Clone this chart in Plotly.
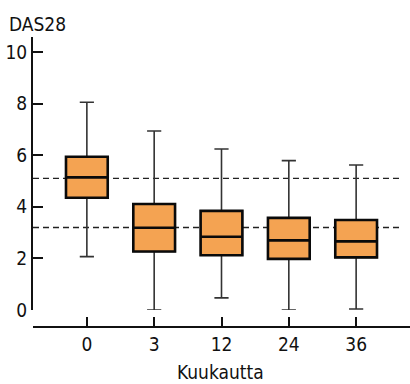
import plotly.graph_objects as go

months = ["0", "3", "12", "24", "36"]
whisker_low = [2.07, 0.0, 0.47, 0.0, 0.04]
q1 = [4.35, 2.27, 2.12, 1.98, 2.04]
median = [5.14, 3.19, 2.84, 2.70, 2.66]
q3 = [5.94, 4.11, 3.84, 3.57, 3.49]
whisker_high = [8.05, 6.94, 6.24, 5.79, 5.62]
thresholds = [5.1, 3.2]
y_ticks = [0, 2, 4, 6, 8, 10]

FONT = "DejaVu Sans Condensed"
FS = 19
INK = "#111111"
FILL = "#F4A352"

fig = go.Figure()
# whiskers (thin, grey)
fig.add_trace(go.Box(
    x=months, q1=q1, median=median, q3=q3,
    lowerfence=whisker_low, upperfence=whisker_high,
    width=0.62, whiskerwidth=0.34, fillcolor=FILL,
    line=dict(color="#333333", width=1.6), offsetgroup="a",
    boxpoints=False, hoverinfo="skip", showlegend=False,
))
# box body (thick black outline)
fig.add_trace(go.Box(
    x=months, q1=q1, median=median, q3=q3,
    lowerfence=q1, upperfence=q3,
    width=0.62, whiskerwidth=0, fillcolor=FILL,
    line=dict(color="#0a0a0a", width=2.6), offsetgroup="a",
    boxpoints=False, showlegend=False,
))

for t in thresholds:
    fig.add_shape(type="line", xref="paper", yref="y", x0=0, x1=0.981, y0=t, y1=t,
                  line=dict(color="#222222", width=1.4, dash="6px,4px"), layer="below")

fig.update_layout(
    width=410, height=384,
    margin=dict(l=33, r=0, t=37, b=57),
    paper_bgcolor="white", plot_bgcolor="white",
    boxmode="overlay",
    font=dict(family=FONT, size=FS, color=INK),
    xaxis=dict(
        type="category", categoryorder="array", categoryarray=months,
        range=[-0.8, 4.8], anchor="free", position=0,
        showline=True, linecolor=INK, linewidth=2,
        ticks="inside", ticklen=9, tickwidth=2, tickcolor=INK,
        showgrid=False, zeroline=False,
        tickfont=dict(family=FONT, size=FS, color=INK),
    ),
    yaxis=dict(
        domain=[0.0586, 1], range=[0, 10.58],
        tickvals=y_ticks, ticktext=[str(v) for v in y_ticks],
        showline=True, linecolor=INK, linewidth=2,
        ticks="inside", ticklen=10, tickwidth=2, tickcolor=INK,
        showgrid=False, zeroline=False,
        tickfont=dict(family=FONT, size=FS, color=INK),
    ),
    annotations=[
        dict(text="DAS28", xref="paper", yref="paper", x=-0.07, y=1.045,
             xanchor="left", yanchor="middle", showarrow=False,
             font=dict(family=FONT, size=FS, color=INK)),
        dict(text="Kuukautta", xref="paper", yref="paper", x=0.497, y=-0.155,
             xanchor="center", yanchor="middle", showarrow=False,
             font=dict(family=FONT, size=FS, color=INK)),
    ],
)

fig.write_html("out.html", config={"displayModeBar": False},
               post_script="document.body.style.margin='0';")
